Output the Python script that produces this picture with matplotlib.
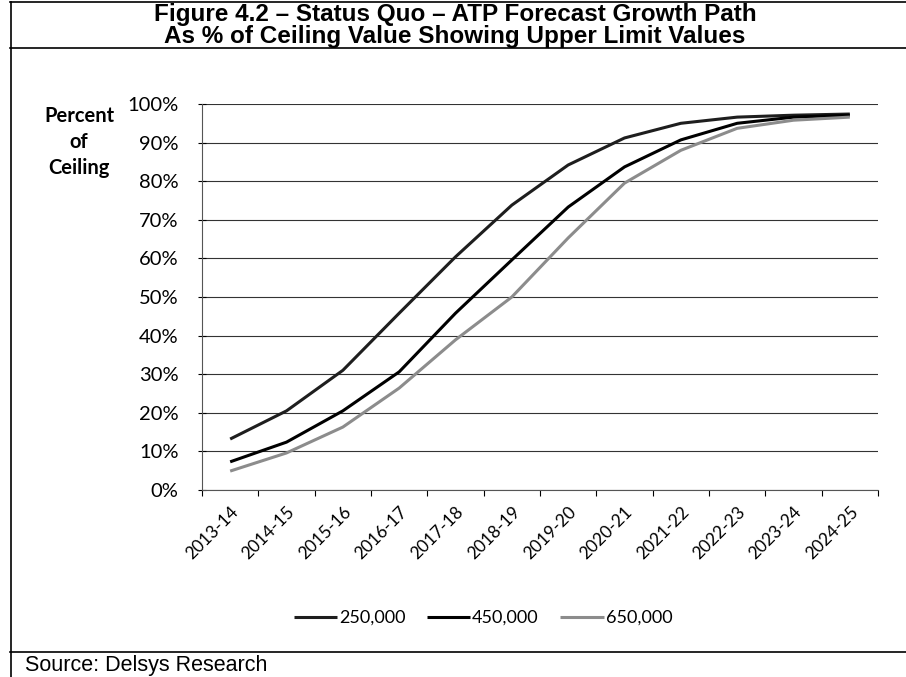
import numpy as np
import matplotlib.pyplot as plt
from matplotlib.lines import Line2D

# years on the x axis
years = ["2013-14", "2014-15", "2015-16", "2016-17", "2017-18", "2018-19",
         "2019-20", "2020-21", "2021-22", "2022-23", "2023-24", "2024-25"]

# percent of ceiling for each upper limit value
pct_250k = [13.2, 20.5, 31.0, 45.8, 60.4, 73.8, 84.2, 91.2, 95.0, 96.6, 97.1, 97.4]
pct_450k = [7.3, 12.4, 20.5, 30.6, 45.8, 59.6, 73.3, 83.7, 90.7, 95.0, 96.6, 97.1]
pct_650k = [4.9, 9.6, 16.3, 26.4, 38.9, 50.0, 65.3, 79.5, 88.0, 93.7, 95.8, 96.6]

series_names = ["250,000", "450,000", "650,000"]
series_cols = ["#1e1e1e", "#000000", "#8c8c8c"]

fig = plt.figure(figsize=(9.06, 6.77), dpi=100)

# frame lines: border, title bar, source bar
W, H = 906, 677
def hline(y, x0=10, x1=906, lw=1.2):
    fig.add_artist(Line2D([x0 / W, x1 / W], [1 - y / H, 1 - y / H], color="black", lw=lw))
hline(2)
hline(48)
hline(652)
fig.add_artist(Line2D([11 / W, 11 / W], [0, 1 - 2 / H], color="black", lw=1.2))

fig.text(455 / W, 1 - 14 / H, "Figure 4.2 – Status Quo – ATP Forecast Growth Path",
         ha="center", va="center", fontsize=17.5, fontweight="bold", family="Liberation Sans")
fig.text(455 / W, 1 - 36 / H, "As % of Ceiling Value Showing Upper Limit Values",
         ha="center", va="center", fontsize=17.5, fontweight="bold", family="Liberation Sans")
fig.text(25 / W, 1 - 665 / H, "Source: Delsys Research", ha="left", va="center",
         fontsize=15.5, family="Liberation Sans")

ax = fig.add_axes([202 / W, 1 - 490 / H, (878 - 202) / W, (490 - 104) / H])
x = np.arange(len(years))
for vals, name, col in zip([pct_250k, pct_450k, pct_650k], series_names, series_cols):
    ax.plot(x, np.array(vals) / 100, color=col, lw=2.2, label=name, solid_capstyle="butt")

ax.set_xlim(-0.5, len(years) - 0.5)
ax.set_ylim(0, 1)
ax.set_yticks(np.arange(0, 1.01, 0.1))
ax.set_yticklabels([f"{int(round(v * 100))}%" for v in np.arange(0, 1.01, 0.1)],
                   fontsize=14.5, family="Lato")
ax.grid(axis="y", color="#333333", lw=0.8)
ax.set_axisbelow(True)

ax.set_xticks(x)
ax.set_xticklabels(years, rotation=45, ha="right", rotation_mode="anchor",
                   fontsize=12.5, family="Lato")
ax.set_xticks(np.arange(-0.5, len(years)), minor=True)
ax.tick_params(axis="x", which="major", length=0, pad=10)
ax.tick_params(axis="x", which="minor", length=4, direction="out", width=0.8)
ax.tick_params(axis="y", length=6, direction="inout", width=0.8, pad=14)

for s in ["top", "right"]:
    ax.spines[s].set_visible(False)
ax.spines["left"].set_color("#555555")
ax.spines["bottom"].set_color("#555555")

fig.text(79 / W, 1 - 142 / H, "Percent\nof\nCeiling", ha="center", va="center",
         fontsize=14.5, fontweight="bold", family="Lato", linespacing=1.35)

fig.legend(loc="center", bbox_to_anchor=(483 / W, 1 - 618 / H), ncol=3, frameon=False,
           prop={"family": "Lato", "size": 13}, handlelength=2.4, handletextpad=0.1,
           columnspacing=1.2)

fig.savefig("out.png", dpi=100)
